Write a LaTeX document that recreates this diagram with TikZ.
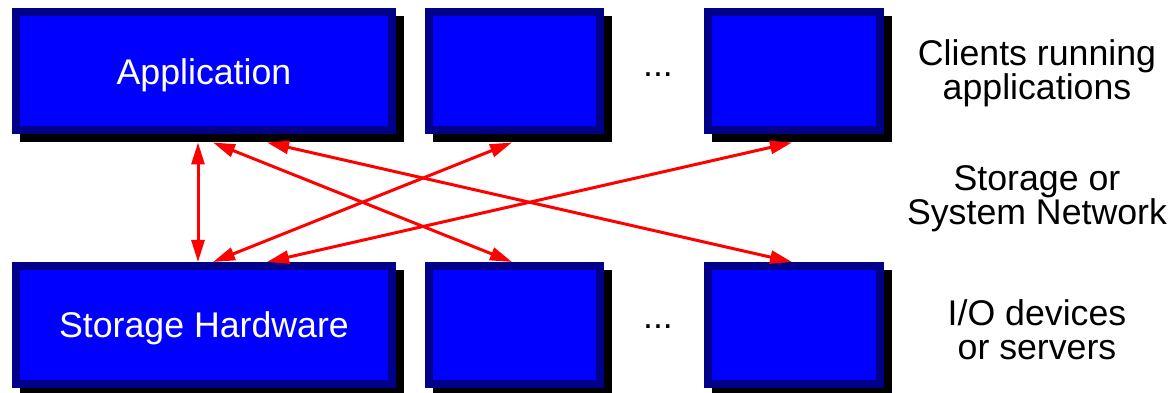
\documentclass[tikz,border=0pt]{standalone}
\usepackage{fontspec}
\setmainfont{Liberation Sans}
\usetikzlibrary{arrows.meta}

\definecolor{boxblue}{RGB}{0,0,255}
\definecolor{boxrim}{RGB}{0,0,136}

\tikzset{
  unit/.style={draw=boxrim, fill=boxblue, line width=8pt, text=white,
    minimum height=118pt, inner sep=0pt, text depth=0pt,
    preaction={draw=black, fill=black, transform canvas={shift={(8pt,-8pt)}}}},
  link/.style={red, line width=3pt,
    {Triangle[length=22pt,width=13pt]}-{Triangle[length=22pt,width=13pt]}},
  side/.style={align=center},
}

\begin{document}
\begin{tikzpicture}[x=1pt, y=1pt, font=\fontsize{35.7}{34}\selectfont]
  \useasboundingbox (0,0) rectangle (1172,393);
  \node[unit, minimum width=376pt] (app) at (204,321.5) {Application};
  \node[unit, minimum width=171pt] (clientB) at (514.5,321.5) {};
  \node[unit, minimum width=172pt] (clientC) at (794,321.5) {};
  \node[unit, minimum width=376pt] (store) at (204,68) {Storage Hardware};
  \node[unit, minimum width=171pt] (devB) at (514.5,68) {};
  \node[unit, minimum width=172pt] (devC) at (794,68) {};
  \node[anchor=base] (dotsA) at (658,316) {...};
  \node[anchor=base] (dotsB) at (658,64) {...};

  \draw[link] ([xshift=-6pt,yshift=-8pt]app.south) -- ([xshift=-6pt]store.north);
  \draw[link] ([xshift=9pt,yshift=-8pt]app.south) -- ([xshift=-2.5pt]devB.north);
  \draw[link] ([xshift=63pt,yshift=-8pt]app.south) -- ([xshift=-2pt]devC.north);
  \draw[link] ([xshift=9pt]store.north) -- ([xshift=-2.5pt,yshift=-8pt]clientB.south);
  \draw[link] ([xshift=63pt]store.north) -- ([xshift=-2pt,yshift=-8pt]clientC.south);

  \node[side] (clients) at (1037,320) {Clients running\\applications};
  \node[side] (network) at (1037,194) {Storage or\\System Network};
  \node[side] (devices) at (1037,63) {I/O devices\\or servers};
\end{tikzpicture}
\end{document}
